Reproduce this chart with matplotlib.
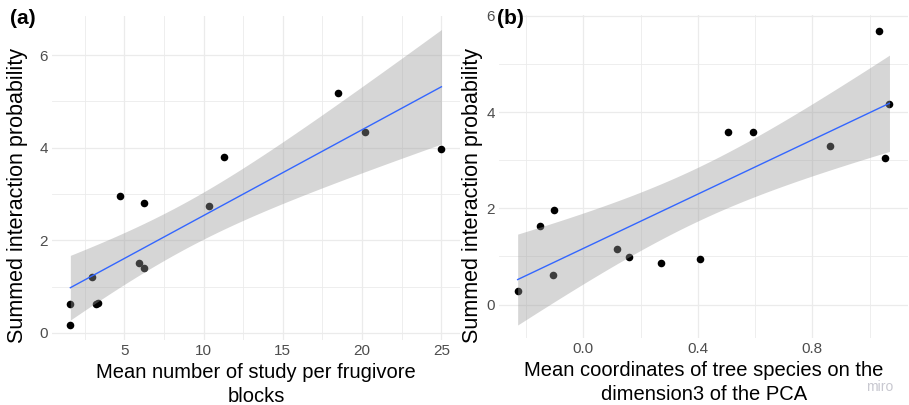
import matplotlib

matplotlib.use("Agg")

import matplotlib.pyplot as plt
import numpy as np

plt.rcParams.update(
    {
        "font.family": ["Liberation Sans", "DejaVu Sans"],
        "figure.dpi": 100,
    }
)

# Panel (a): mean number of study per frugivore blocks
study_x = [1.6, 1.6, 2.99, 3.2, 3.35, 4.7, 6.24, 5.9, 6.24, 10.35, 11.3, 18.48, 20.2, 25.0]
study_y = [0.62, 0.16, 1.20, 0.62, 0.64, 2.96, 2.81, 1.51, 1.40, 2.75, 3.79, 5.18, 4.34, 3.98]

# Panel (b): mean coordinates on PCA dimension 3
pca_x = [-0.229, -0.150, -0.101, -0.105, 0.118, 0.161, 0.271, 0.407, 0.506, 0.593, 0.863, 1.033, 1.069, 1.054]
pca_y = [0.29, 1.63, 1.97, 0.62, 1.15, 0.98, 0.87, 0.95, 3.59, 3.59, 3.29, 5.68, 4.17, 3.04]

T_975 = 2.179  # t quantile, df = 12

GRID = "#EBEBEB"
TICK = "#4D4D4D"


def lm_band(x, y, n=80):
    x = np.asarray(x)
    y = np.asarray(y)
    slope, icpt = np.polyfit(x, y, 1)
    xs = np.linspace(x.min(), x.max(), n)
    fit = icpt + slope * xs
    resid = y - (icpt + slope * x)
    s = np.sqrt(np.sum(resid**2) / (len(x) - 2))
    se = s * np.sqrt(1 / len(x) + (xs - x.mean()) ** 2 / np.sum((x - x.mean()) ** 2))
    return xs, fit, fit - T_975 * se, fit + T_975 * se


def panel(ax, x, y, xlabel, xmajor, xminor, xticklabels, ylim, xlim, ylab_pos):
    xs, fit, lo, hi = lm_band(x, y)
    ax.scatter(x, y, s=30, color="black", zorder=2, linewidths=0)
    # ribbon drawn over the points, as ggplot does
    ax.fill_between(xs, lo, hi, color="#999999", alpha=0.4, linewidth=0, zorder=3)
    ax.plot(xs, fit, color="#3366FF", linewidth=1.0, zorder=4)

    ax.set_xlim(*xlim)
    ax.set_ylim(*ylim)
    ax.set_xticks(xmajor)
    ax.set_xticklabels(xticklabels)
    ax.set_xticks(xminor, minor=True)
    ax.set_yticks([0, 2, 4, 6])
    ax.set_yticks([1, 3, 5], minor=True)
    ax.grid(True, which="major", color=GRID, linewidth=0.9, zorder=0)
    ax.grid(True, which="minor", color=GRID, linewidth=0.6, zorder=0)
    ax.set_axisbelow(True)
    for sp in ax.spines.values():
        sp.set_visible(False)
    ax.tick_params(which="both", length=0, labelsize=11, labelcolor=TICK, pad=3)
    ax.set_xlabel(xlabel, fontsize=14.5, labelpad=3, linespacing=1.35)
    ax.set_ylabel("Summed interaction probability", fontsize=15.5)
    ax.yaxis.set_label_coords(*ylab_pos)


fig = plt.figure(figsize=(9.09, 4.05))
ax_a = fig.add_axes([0.057, 0.16, 0.449, 0.80])
ax_b = fig.add_axes([0.549, 0.165, 0.450, 0.798])

panel(
    ax_a, study_x, study_y,
    "Mean number of study per frugivore\nblocks",
    [5, 10, 15, 20, 25], [2.5, 7.5, 12.5, 17.5, 22.5],
    ["5", "10", "15", "20", "25"],
    (-0.16, 6.84), (0.43, 26.17), (-0.058, 0.447),
)
panel(
    ax_b, pca_x, pca_y,
    "Mean coordinates of tree species on the\ndimension3 of the PCA",
    [0.0, 0.4, 0.8], [-0.2, 0.2, 0.6, 1.0],
    ["0.0", "0.4", "0.8"],
    (-0.70, 6.02), (-0.294, 1.134), (-0.04, 0.443),
)

fig.text(0.011, 0.955, "(a)", fontsize=15, fontweight="bold", va="center")
fig.text(0.547, 0.955, "(b)", fontsize=15, fontweight="bold", va="center")
fig.text(0.968, 0.045, "miro", fontsize=10, color="#C8C8D0", ha="center", va="center")

fig.savefig("out.png", dpi=100)
